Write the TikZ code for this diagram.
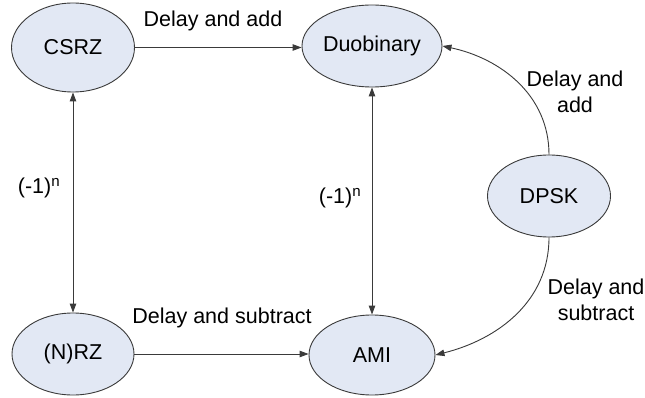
\documentclass[tikz,border=0pt]{standalone}
\usepackage{fontspec}
\setmainfont{Liberation Sans}
\usetikzlibrary{shapes.geometric,arrows.meta}
\definecolor{nodefill}{HTML}{E2E8F4}
\definecolor{linegray}{HTML}{3A3A3A}
\tikzset{
  state/.style={ellipse, draw=linegray, line width=0.9pt, fill=nodefill,
    inner sep=0pt, font=\fontsize{21.5}{26}\selectfont},
  lbl/.style={inner sep=0pt, align=center, font=\fontsize{21.5}{26}\selectfont},
  conn/.style={draw=linegray, line width=0.9pt,
    -{Triangle[length=9pt,width=6.5pt]}},
  conn2/.style={draw=linegray, line width=0.9pt,
    {Triangle[length=9pt,width=6.5pt]}-{Triangle[length=9pt,width=6.5pt]}}
}
\begin{document}
\begin{tikzpicture}[x=1pt,y=1pt]
  \useasboundingbox (0,0) rectangle (645,-398);
  \fill[white] (0,0) rectangle (645,-398);

  % modulation formats
  \node[state, minimum width=123, minimum height=89] (csrz) at (73,-47.5) {CSRZ};
  \node[state, minimum width=140, minimum height=82] (duo) at (372,-46) {Duobinary};
  \node[state, minimum width=123, minimum height=82] (dpsk) at (549,-196) {DPSK};
  \node[state, minimum width=122, minimum height=82] (nrz) at (73,-354) {(N)RZ};
  \node[state, minimum width=126, minimum height=80] (ami) at (372,-355) {AMI};

  % conversions
  \draw[conn] (csrz.east) -- (duo.west |- csrz.east);
  \draw[conn] (nrz.east) -- (ami.west |- nrz.east);
  \draw[conn2] (csrz.south) -- (nrz.north);
  \draw[conn2] (duo.south) -- (ami.north);
  \draw[conn] (dpsk.north) to[out=90,in=-12] (duo.east);
  \draw[conn] (dpsk.south) to[out=-90,in=14] (ami.east);

  % conversion labels
  \node[lbl] (l1) at (213,-21) {Delay and add};
  \node[lbl] (l2) at (222,-318) {Delay and subtract};
  \node[lbl] (l3) at (39,-188) {(-1)\textsuperscript{n}};
  \node[lbl] (l4) at (340,-198) {(-1)\textsuperscript{n}};
  \node[lbl] (l5) at (575,-92) {Delay and\\add};
  \node[lbl] (l6) at (596,-300) {Delay and\\subtract};
\end{tikzpicture}
\end{document}
